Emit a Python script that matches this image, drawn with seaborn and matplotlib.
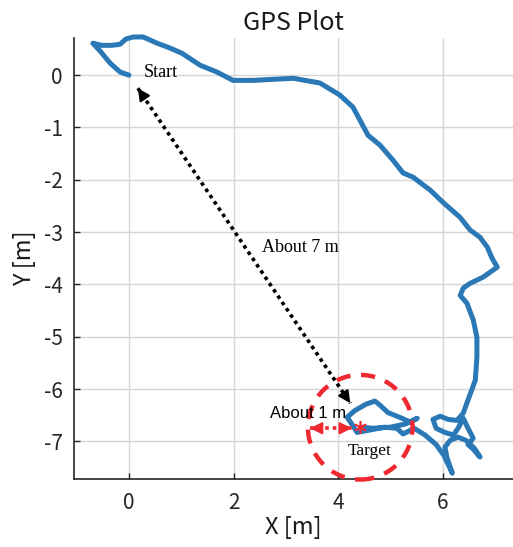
import numpy as np
import pandas as pd
import matplotlib
matplotlib.use("Agg")
import matplotlib.pyplot as plt
import seaborn as sns

# ---- data (metres) ----
path_x = [0.00, -0.17, -0.36, -0.55, -0.69, -0.52, -0.33, -0.17, -0.06, 0.08, 0.27, 0.54, 0.78, 1.01,
          1.36, 1.68, 1.99, 2.37, 2.75, 3.14, 3.65, 4.03, 4.28, 4.57, 4.80, 5.05, 5.24, 5.43, 5.76,
          6.00, 6.33, 6.52, 6.71, 6.85, 6.94, 7.04, 6.77, 6.52, 6.39, 6.33, 6.46, 6.58, 6.65, 6.65,
          6.62, 6.48, 6.39, 6.27, 6.10, 5.95, 5.81, 5.87, 6.04, 6.20, 6.29, 6.39, 6.48, 6.58, 6.48,
          6.58, 6.71, 6.60, 6.44, 6.29, 6.14, 6.04, 6.08, 6.18, 6.02, 5.87, 5.66, 5.45, 5.24, 5.12,
          4.88, 4.57, 4.36, 4.26, 4.17, 4.32, 4.53, 4.70, 4.80, 4.95, 5.22, 5.37, 5.51, 5.28, 4.99,
          4.65, 4.46]
path_y = [0.00, 0.06, 0.23, 0.46, 0.61, 0.57, 0.57, 0.59, 0.69, 0.73, 0.73, 0.61, 0.52, 0.42,
          0.19, 0.06, -0.10, -0.10, -0.08, -0.06, -0.15, -0.38, -0.61, -1.15, -1.34, -1.63, -1.87,
          -1.95, -2.20, -2.43, -2.72, -2.96, -3.10, -3.29, -3.50, -3.67, -3.86, -3.98, -4.07, -4.21,
          -4.36, -4.68, -5.01, -5.39, -5.83, -6.21, -6.46, -6.60, -6.58, -6.52, -6.58, -6.75, -6.83,
          -6.88, -6.75, -6.56, -6.75, -6.94, -7.06, -7.15, -7.30, -7.13, -6.98, -6.92, -6.98, -7.11,
          -7.32, -7.61, -7.27, -7.06, -6.88, -6.75, -6.86, -6.75, -6.73, -6.79, -6.83, -6.67, -6.54,
          -6.41, -6.29, -6.23, -6.31, -6.45, -6.56, -6.63, -6.56, -6.67, -6.73, -6.75, -6.73]

start_xy = [0.0, 0.0]
target_xy = [4.42, -6.73]
target_radius = 1.0
dist_arrow_from = [0.17, -0.25]
dist_arrow_to = [4.23, -6.27]
radius_arrow_from = [3.46, -6.75]
radius_arrow_to = [4.26, -6.75]

x_ticks = [0, 2, 4, 6]
y_ticks = [0, -1, -2, -3, -4, -5, -6, -7]

title = "GPS Plot"
x_label = "X [m]"
y_label = "Y [m]"

df = pd.DataFrame({"x": path_x, "y": path_y})

sns.set_theme(style="ticks")
plt.rcParams["font.family"] = ["Noto Sans CJK JP", "DejaVu Sans"]
plt.rcParams["axes.unicode_minus"] = False

fig = plt.figure(figsize=(5.13, 5.47), dpi=100)
ax = fig.add_axes([0.1443, 0.1243, 0.8557, 0.8062])

blue = "#2a78b6"
red = "#f02830"

sns.lineplot(data=df, x="x", y="y", sort=False, estimator=None, ax=ax,
             color=blue, linewidth=3.6, clip_on=False, zorder=3,
             solid_joinstyle="round", solid_capstyle="round")

ax.set_xlim(-1.05, 7.34)
ax.set_ylim(-7.72, 0.71)
ax.set_xticks(x_ticks)
ax.set_yticks(y_ticks)
ax.set_xticklabels([str(v) for v in x_ticks])
ax.set_yticklabels([str(v).replace("\u2212", "-") for v in y_ticks])
ax.grid(True, color="#d6d6d6", linewidth=1.0)
ax.set_axisbelow(True)
for s in ["top", "right"]:
    ax.spines[s].set_visible(False)
for s in ["left", "bottom"]:
    ax.spines[s].set_color("#262626")
    ax.spines[s].set_linewidth(1.2)
ax.tick_params(direction="in", length=4, width=1, colors="#262626",
               labelsize=15, labelcolor="#262626")
ax.tick_params(axis="x", pad=9)
ax.tick_params(axis="y", pad=8)

ax.set_title(title, fontsize=18, color="#1a1a1a", pad=6)
ax.set_xlabel(x_label, fontsize=17, color="#1a1a1a", labelpad=2)
ax.set_ylabel(y_label, fontsize=17, color="#1a1a1a", labelpad=6)

# black dotted distance arrow
ax.plot([dist_arrow_from[0], dist_arrow_to[0]], [dist_arrow_from[1], dist_arrow_to[1]],
        color="black", linewidth=2.6, linestyle=(0, (1, 1.1)), zorder=4)
for a, b in [(dist_arrow_from, dist_arrow_to), (dist_arrow_to, dist_arrow_from)]:
    ax.annotate("", xy=a, xytext=(a[0] + (b[0] - a[0]) * 0.03, a[1] + (b[1] - a[1]) * 0.03),
                arrowprops=dict(arrowstyle="-|>,head_length=0.6,head_width=0.3",
                                color="black", lw=1.5, shrinkA=0, shrinkB=0), zorder=5)

# red dashed circle
circle = plt.Circle(target_xy, target_radius, fill=False, edgecolor=red, linewidth=3.2,
                    linestyle=(0, (3.2, 2.4)), zorder=5, clip_on=False)
ax.add_patch(circle)

# red dotted radius arrow
ax.plot([radius_arrow_from[0], radius_arrow_to[0]], [radius_arrow_from[1], radius_arrow_to[1]],
        color=red, linewidth=2.6, linestyle=(0, (1, 1.1)), zorder=5)
for a, b in [(radius_arrow_from, radius_arrow_to), (radius_arrow_to, radius_arrow_from)]:
    ax.annotate("", xy=a, xytext=(a[0] + (b[0] - a[0]) * 0.2, a[1]),
                arrowprops=dict(arrowstyle="-|>,head_length=0.6,head_width=0.3",
                                color=red, lw=1.5, shrinkA=0, shrinkB=0), zorder=6)

# target star
ax.plot([target_xy[0]], [target_xy[1]], marker=(6, 2, 0), markersize=9, color=red,
        markeredgewidth=1.2, zorder=6)

serif = ["Liberation Serif", "DejaVu Serif"]
ax.text(0.29, 0.06, "Start", fontsize=13, family=serif, ha="left", va="center", color="black", zorder=7)
ax.text(2.54, -3.29, "About 7 m", fontsize=13, family=serif, ha="left", va="center", color="black", zorder=7)
ax.text(4.60, -7.19, "Target", fontsize=12.5, family=serif, ha="center", va="center", color="black", zorder=7)
ax.text(2.70, -6.46, "About 1 m", fontsize=12, family=["Liberation Sans", "DejaVu Sans"],
        ha="left", va="center", color="black", zorder=7)

fig.savefig("out.png", dpi=100)
